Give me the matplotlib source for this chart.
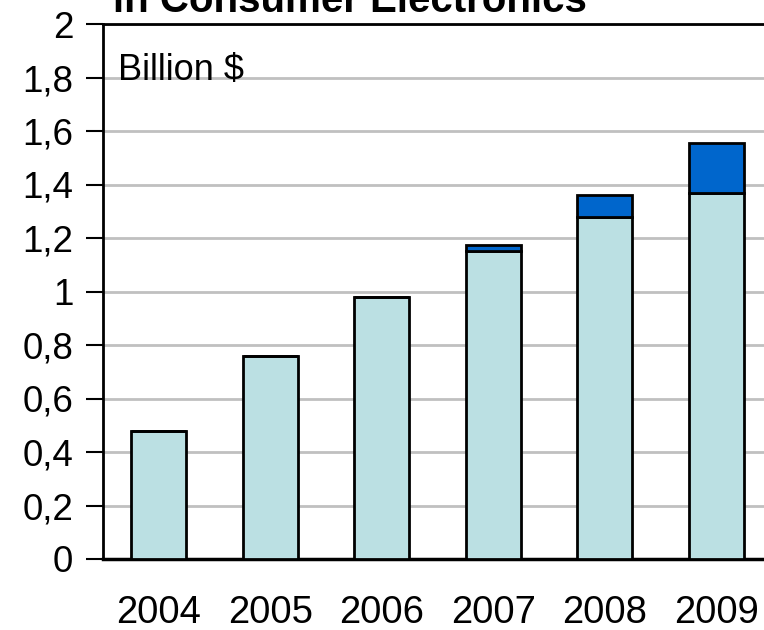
import matplotlib.pyplot as plt

plt.rcParams['font.family'] = ['Liberation Sans', 'DejaVu Sans']

years = ["2004", "2005", "2006", "2007", "2008", "2009"]
base = [0.48, 0.76, 0.98, 1.15, 1.28, 1.37]
extra = [0.0, 0.0, 0.0, 0.025, 0.08, 0.185]
yticks = [0, 0.2, 0.4, 0.6, 0.8, 1, 1.2, 1.4, 1.6, 1.8, 2]
ytick_labels = ["0", "0,2", "0,4", "0,6", "0,8", "1", "1,2", "1,4", "1,6", "1,8", "2"]

fig = plt.figure(figsize=(7.64, 6.3), dpi=100)
# axes runs a little past the right edge, like the source slide
ax = fig.add_axes([103 / 764, 71 / 630, 669 / 764, 535 / 630])

x = list(range(len(years)))
ax.bar(x, base, width=0.49, color="#BBE0E3", edgecolor="black", linewidth=2, zorder=3)
ax.bar(x, extra, width=0.49, bottom=base, color="#0066CC", edgecolor="black",
       linewidth=2, zorder=3)

ax.set_xlim(-0.5, 5.5)
ax.set_ylim(0, 2)
ax.set_yticks(yticks)
ax.set_yticklabels(ytick_labels)
ax.set_xticks(x)
ax.set_xticklabels(years)
ax.tick_params(axis="y", length=12, width=1.5, labelsize=26.5, pad=9.5, direction="out")
ax.tick_params(axis="x", length=0, labelsize=27.5, pad=26)

ax.yaxis.grid(True, color="#C0C0C0", linewidth=2, zorder=0)
ax.set_axisbelow(True)
ax.spines["left"].set_linewidth(2)
ax.spines["top"].set_linewidth(2)
ax.spines["bottom"].set_linewidth(2.5)
ax.spines["right"].set_visible(False)

ax.text(0.022, 0.895, "Billion $", transform=ax.transAxes, fontsize=26,
        va="baseline", ha="left")
fig.text(113 / 764, 1 - 12 / 630, "in Consumer Electronics", fontsize=29,
         fontweight="bold", va="baseline", ha="left")

fig.savefig("out.png", dpi=100)
